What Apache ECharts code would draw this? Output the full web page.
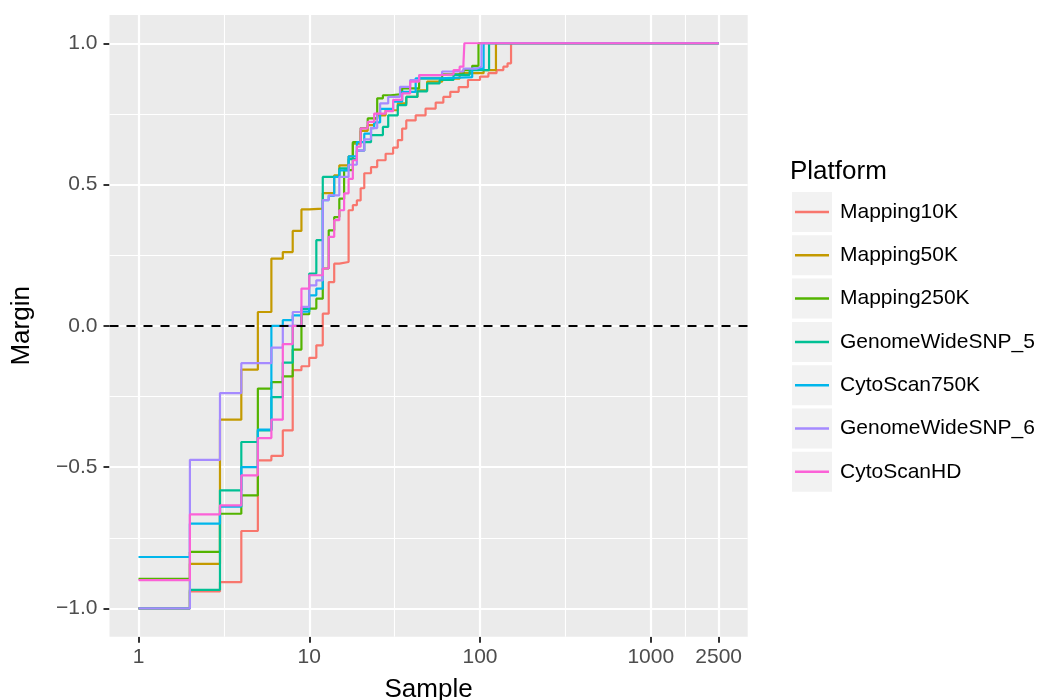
<!DOCTYPE html>
<html>
<head>
<meta charset="utf-8">
<script src="https://cdn.jsdelivr.net/npm/echarts@6/dist/echarts.min.js"></script>
<style>
  html, body { margin: 0; padding: 0; background: #fff; }
  #chart { width: 1048px; height: 700px; }
</style>
</head>
<body>
<div id="chart"></div>
<script>
// platforms, in legend order, with the ggplot hue palette
const platforms = ["Mapping10K", "Mapping50K", "Mapping250K", "GenomeWideSNP_5",
  "CytoScan750K", "GenomeWideSNP_6", "CytoScanHD"];
const colors = ["#F8766D", "#C49A00", "#53B400", "#00C094", "#00B6EB", "#A58AFF", "#FB61D7"];

// step data: sample rank where a step starts, and the margin from there on
const mapping10kRank = [1, 2, 3, 4, 5, 6, 7, 8, 9, 10, 11, 12, 13, 14, 15, 17, 18, 19, 20, 21,
  23, 25, 28, 31, 33, 35, 37, 42, 48, 55, 61, 67, 75, 85, 100, 112, 125, 137, 145, 152, 2500];
const mapping10kMargin = [-1, -0.94, -0.907, -0.726, -0.476, -0.46, -0.37, -0.157, -0.143, -0.113,
  -0.069, 0.043, 0.155, 0.22, 0.226, 0.409, 0.427, 0.444, 0.487, 0.54,
  0.562, 0.586, 0.609, 0.631, 0.657, 0.698, 0.727, 0.745, 0.769, 0.79, 0.81, 0.828, 0.845, 0.87,
  0.882, 0.894, 0.905, 0.917, 0.929, 1, 1];

const mapping50kRank = [1, 2, 3, 4, 5, 6, 7, 8, 9, 10, 12, 14, 15, 17, 18, 20, 22, 24, 25, 28,
  33, 37, 43, 49, 60, 76, 105, 124, 2500];
const mapping50kMargin = [-1, -0.842, -0.332, -0.155, 0.049, 0.238, 0.261, 0.336, 0.412, 0.415,
  0.47, 0.533, 0.568, 0.6, 0.645, 0.69, 0.71, 0.734, 0.745, 0.763,
  0.787, 0.81, 0.833, 0.864, 0.875, 0.894, 0.905, 1, 1];

const mapping250kRank = [1, 2, 3, 4, 5, 6, 7, 8, 9, 10, 11, 12, 13, 14, 15, 16, 18, 20, 22, 25,
  27, 30, 35, 44, 60, 80, 90, 98, 2500];
const mapping250kMargin = [-0.895, -0.8, -0.665, -0.6, -0.222, -0.199, -0.179, -0.084, 0.041, 0.061,
  0.096, 0.203, 0.338, 0.385, 0.45, 0.551, 0.65, 0.7, 0.734, 0.805,
  0.816, 0.82, 0.84, 0.876, 0.89, 0.905, 0.92, 1, 1];

const gwsnp5Rank = [1, 2, 3, 4, 5, 6, 7, 8, 9, 10, 11, 12, 15, 17, 19, 21, 23, 27, 29, 33,
  37, 43, 49, 58, 70, 87, 113, 2500];
const gwsnp5Margin = [-1, -0.934, -0.582, -0.411, -0.37, -0.252, -0.13, 0, 0.06, 0.185,
  0.303, 0.527, 0.557, 0.59, 0.62, 0.65, 0.675, 0.704, 0.745, 0.781,
  0.81, 0.83, 0.858, 0.87, 0.888, 0.905, 1, 1];

const cyto750kRank = [1, 2, 3, 4, 5, 6, 7, 8, 9, 10, 11, 12, 13, 14, 15, 17, 19, 21, 23, 24,
  26, 31, 35, 42, 58, 90, 105, 2500];
const cyto750kMargin = [-0.818, -0.7, -0.64, -0.5, -0.367, 0, 0.02, 0.037, 0.05, 0.108,
  0.132, 0.445, 0.46, 0.527, 0.55, 0.6, 0.65, 0.68, 0.7, 0.72,
  0.768, 0.793, 0.828, 0.876, 0.88, 0.91, 1, 1];

const gwsnp6Rank = [1, 2, 3, 4, 6, 7, 8, 9, 10, 11, 12, 13, 15, 17, 19, 21, 23, 25, 26, 29,
  34, 39, 44, 60, 80, 95, 102, 2500];
const gwsnp6Margin = [-1, -0.474, -0.238, -0.132, -0.077, 0, 0.049, 0.067, 0.143, 0.161,
  0.445, 0.462, 0.527, 0.57, 0.62, 0.66, 0.7, 0.75, 0.787, 0.81,
  0.846, 0.87, 0.887, 0.9, 0.91, 0.917, 1, 1];

const cytoHDRank = [1, 2, 3, 4, 5, 6, 7, 8, 9, 10, 12, 13, 14, 15, 16, 17, 18, 19, 20, 22,
  24, 28, 31, 35, 39, 44, 58, 70, 76, 80, 81, 2500];
const cytoHDMargin = [-0.9, -0.667, -0.635, -0.529, -0.397, -0.332, -0.065, 0, 0.132, 0.179,
  0.203, 0.315, 0.374, 0.409, 0.469, 0.52, 0.586, 0.634, 0.699, 0.722,
  0.751, 0.76, 0.8, 0.823, 0.864, 0.887, 0.89, 0.905, 0.917, 0.929, 1, 1];

// axis breaks
const xBreaks = [1, 10, 100, 1000, 2500];
const yBreaks = [-1, -0.5, 0, 0.5, 1];

const ranks = [mapping10kRank, mapping50kRank, mapping250kRank, gwsnp5Rank, cyto750kRank, gwsnp6Rank, cytoHDRank];
const margins = [mapping10kMargin, mapping50kMargin, mapping250kMargin, gwsnp5Margin, cyto750kMargin, gwsnp6Margin, cytoHDMargin];

// x is drawn on log10 scale, expanded 5% like ggplot
const xMajor = xBreaks.map((v) => Math.log10(v));
const xMinor = xMajor.slice(1).map((v, i) => (v + xMajor[i]) / 2);
const yMinor = yBreaks.slice(1).map((v, i) => (v + yBreaks[i]) / 2);
const xPad = (xMajor[xMajor.length - 1] - xMajor[0]) * 0.05;
const yPad = (yBreaks[yBreaks.length - 1] - yBreaks[0]) * 0.05;

const gridLines = [];
xMinor.forEach((v) => gridLines.push({ xAxis: v, lineStyle: { width: 1.1 } }));
yMinor.forEach((v) => gridLines.push({ yAxis: v, lineStyle: { width: 1.1 } }));
xMajor.forEach((v) => gridLines.push({ xAxis: v, lineStyle: { width: 2.2 } }));
yBreaks.forEach((v) => gridLines.push({ yAxis: v, lineStyle: { width: 2.2 } }));

const series = [
  {
    name: "grid",
    type: "line",
    data: [],
    silent: true,
    z: 1,
    markLine: {
      silent: true,
      z: 1,
      symbol: "none",
      animation: false,
      label: { show: false },
      lineStyle: { color: "#ffffff", type: "solid" },
      data: gridLines,
    },
  },
];

platforms.forEach((name, i) => {
  series.push({
    name: name,
    type: "line",
    step: "end",
    z: 3,
    color: colors[i],
    showSymbol: false,
    symbol: "none",
    lineStyle: { width: 2.2, color: colors[i] },
    data: ranks[i].map((r, j) => [Math.log10(r), margins[i][j]]),
  });
});

// dashed reference line at zero
series.push({
  name: "zero",
  type: "line",
  data: [],
  silent: true,
  z: 6,
  markLine: {
    silent: true,
    z: 6,
    symbol: "none",
    animation: false,
    label: { show: false },
    lineStyle: { color: "#000000", type: [9, 8], width: 2 },
    data: [{ yAxis: 0 }],
  },
});

const keyBoxes = platforms.map((p, i) => ({
  type: "rect",
  left: 792,
  top: 192 + i * 43.3,
  shape: { width: 40, height: 40 },
  style: { fill: "#F2F2F2" },
  z: 0,
}));

const chart = echarts.init(document.getElementById("chart"));
chart.setOption({
  animation: false,
  textStyle: { fontFamily: "Liberation Sans, Arial, sans-serif" },
  title: {
    text: "Platform",
    left: 790,
    top: 159,
    padding: 0,
    textStyle: { fontSize: 26, fontWeight: "normal", color: "#000" },
  },
  legend: {
    data: platforms,
    orient: "vertical",
    left: 795,
    top: 200,
    padding: 0,
    icon: "rect",
    itemWidth: 34,
    itemHeight: 2.5,
    itemGap: 19.3,
    textStyle: { fontSize: 21, lineHeight: 24, color: "#000", padding: [0, 0, 0, 6] },
  },
  graphic: keyBoxes,
  grid: {
    left: 109.5,
    right: 300.3,
    top: 15,
    bottom: 63.3,
    containLabel: false,
    outerBoundsMode: "none",
    show: true,
    backgroundColor: "#EBEBEB",
    borderWidth: 0,
  },
  xAxis: {
    type: "value",
    min: xMajor[0] - xPad,
    max: xMajor[xMajor.length - 1] + xPad,
    name: "Sample",
    nameLocation: "middle",
    nameGap: 40,
    nameTextStyle: { fontSize: 26, color: "#000" },
    axisLine: { show: false, onZero: false },
    splitLine: { show: false },
    axisTick: {
      show: true,
      length: 6,
      customValues: xMajor,
      lineStyle: { color: "#333333", width: 2 },
    },
    axisLabel: {
      customValues: xMajor,
      margin: 10,
      fontSize: 21,
      color: "#4D4D4D",
      formatter: (v) => String(Math.round(Math.pow(10, v))),
    },
  },
  yAxis: {
    type: "value",
    min: yBreaks[0] - yPad,
    max: yBreaks[yBreaks.length - 1] + yPad,
    name: "Margin",
    nameLocation: "middle",
    nameGap: 75,
    nameRotate: 90,
    nameTextStyle: { fontSize: 26, color: "#000" },
    axisLine: { show: false, onZero: false },
    splitLine: { show: false },
    axisTick: {
      show: true,
      length: 6,
      customValues: yBreaks,
      lineStyle: { color: "#333333", width: 2 },
    },
    axisLabel: {
      customValues: yBreaks,
      margin: 12,
      fontSize: 21,
      color: "#4D4D4D",
      formatter: (v) => (v < 0 ? "\u2212" : "") + Math.abs(v).toFixed(1),
    },
  },
  series: series,
});
</script>
</body>
</html>
